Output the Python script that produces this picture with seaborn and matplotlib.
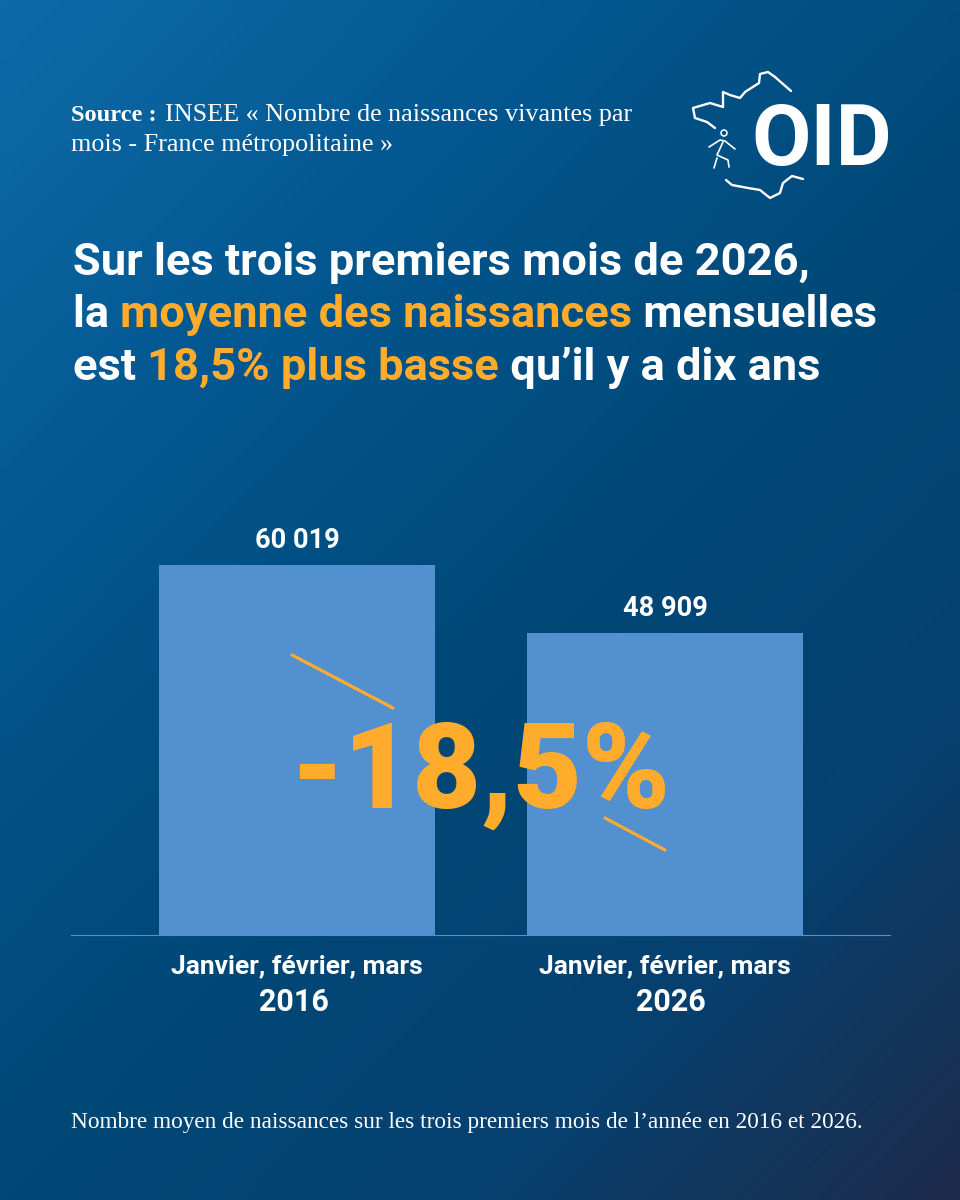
import numpy as np
import pandas as pd
import matplotlib
matplotlib.use("Agg")
import matplotlib.pyplot as plt
from matplotlib.colors import LinearSegmentedColormap
from matplotlib.lines import Line2D
import seaborn as sns

years = ["2016", "2026"]
months_label = ["Janvier, février, mars", "Janvier, février, mars"]
births = [60019, 48909]
value_labels = ["60 019", "48 909"]

SANS = "Roboto"
SERIF = "Liberation Serif"
WHITE = "#ffffff"
ORANGE = "#ffab2b"
BAR = "#5390d0"
W, H = 960, 1200

sns.set_theme(style="white")
plt.rcParams["font.family"] = [SANS, "DejaVu Sans"]

fig = plt.figure(figsize=(W / 100, H / 100), dpi=100)

# gradient background
bg = fig.add_axes([0, 0, 1, 1], zorder=0)
xx, yy = np.meshgrid(np.linspace(0, 1, 240), np.linspace(0, 1, 300))
t = (xx * 0.9 + yy * 1.1) / 2
cmap = LinearSegmentedColormap.from_list(
    "bg", [(0, "#0e6ba8"), (0.28, "#03568f"), (0.55, "#004876"), (0.78, "#07406f"), (1, "#1d2b4b")])
bg.imshow(t, cmap=cmap, vmin=0, vmax=1, aspect="auto", extent=[0, W, H, 0], interpolation="bilinear")
bg.set_xlim(0, W)
bg.set_ylim(H, 0)
bg.axis("off")

# chart
base_y, top_y = 935, 480
ax = fig.add_axes([71 / W, (H - base_y) / H, 819 / W, (base_y - top_y) / H], zorder=1)
ax.patch.set_alpha(0)
df = pd.DataFrame({"annee": years, "naissances": births})
sns.barplot(data=df, x="annee", y="naissances", ax=ax, color=BAR, saturation=1, width=0.75, linewidth=0, edgecolor="none")
ax.set_xlim((71 - 297) / 368, (890 - 297) / 368)
ax.set_ylim(0, (base_y - top_y) * 60019 / 370)
ax.set_xlabel("")
ax.set_ylabel("")
ax.set_yticks([])
ax.set_xticks([0, 1])
ax.set_xticklabels(["", ""])
ax.tick_params(length=0)
for s in ["top", "left", "right"]:
    ax.spines[s].set_visible(False)
ax.spines["bottom"].set_color(BAR)
ax.spines["bottom"].set_linewidth(0.8)

year_dx = [-3, 6]
for i, (b, lab) in enumerate(zip(births, value_labels)):
    ax.annotate(lab, (i, b), xytext=(0, 11), textcoords="offset pixels", ha="center", va="bottom",
                color=WHITE, fontsize=19.6, fontweight="bold", family=SANS)
    ax.annotate(months_label[i], (i, 0), xytext=(0, -38), textcoords="offset pixels", ha="center",
                va="baseline", color=WHITE, fontsize=19, fontweight="bold", family=SANS)
    ax.annotate(years[i], (i, 0), xytext=(year_dx[i], -76), textcoords="offset pixels", ha="center",
                va="baseline", color=WHITE, fontsize=22, fontweight="bold", family=SANS)

# overlay in pixel coordinates
ov = fig.add_axes([0, 0, 1, 1], zorder=2)
ov.set_xlim(0, W)
ov.set_ylim(H, 0)
ov.axis("off")
ov.patch.set_alpha(0)

ov.add_line(Line2D([292, 393], [655, 708], color=ORANGE, lw=2.3))
ov.add_line(Line2D([605, 665], [818, 850], color=ORANGE, lw=2.3))
ov.text(480, 807, "-18,5%", ha="center", va="baseline", color=ORANGE, fontsize=85.5, fontweight="black", family=SANS)

renderer = fig.canvas.get_renderer()
def rich(x, y, parts, **kw):
    for s, c in parts:
        t_ = ov.text(x, y, s, color=c, va="baseline", ha="left", **kw)
        w = renderer.get_text_width_height_descent(s.replace(" ", "\u00a0"), t_.get_fontproperties(), False)[0]
        x += w

title_kw = dict(fontsize=32.6, fontweight="bold", family=SANS)
rich(73, 275, [("Sur les trois premiers mois de 2026,", WHITE)], **title_kw)
rich(73, 327, [("la ", WHITE), ("moyenne des naissances", ORANGE), (" mensuelles", WHITE)], **title_kw)
rich(73, 380, [("est ", WHITE), ("18,5% plus basse", ORANGE), (" qu’il y a dix ans", WHITE)], **title_kw)

src_kw = dict(fontsize=18.8, family=SERIF)
ov.text(71, 121, "Source :", color=WHITE, fontweight="bold", fontsize=17.6, family=SERIF)
ov.text(165, 121, "INSEE « Nombre de naissances vivantes par", color=WHITE, **src_kw)
ov.text(71, 151, "mois - France métropolitaine »", color=WHITE, **src_kw)
ov.text(71, 1128, "Nombre moyen de naissances sur les trois premiers mois de l’année en 2016 et 2026.",
        color=WHITE, fontsize=16.75, family=SERIF)

# logo
ov.text(751, 165, "OID", color=WHITE, fontsize=62, fontweight="bold", family=SANS, va="baseline")
outline_top = [(791, 91), (775, 77), (768, 72), (760, 74), (759, 83), (745, 92), (740, 98), (730, 95), (723, 92), (723, 107),
               (710, 103), (693, 108), (695, 118), (707, 122), (715, 128)]
outline_bot = [(726, 180), (732, 185), (748, 188), (760, 190), (770, 198), (780, 193), (783, 183), (792, 176), (803, 179)]
for pts in (outline_top, outline_bot):
    xs, ys = zip(*pts)
    ov.add_line(Line2D(xs, ys, color=WHITE, lw=1.7))
ov.add_patch(plt.Circle((724, 133), 3, fill=False, ec=WHITE, lw=1.1))
for pts in ([(709, 147), (720, 140), (725, 141), (735, 149)], [(723, 142), (717, 155), (728, 160), (729, 167)],
            [(717, 158), (714, 168)]):
    xs, ys = zip(*pts)
    ov.add_line(Line2D(xs, ys, color=WHITE, lw=1.2))

fig.savefig("out.png", dpi=100)
